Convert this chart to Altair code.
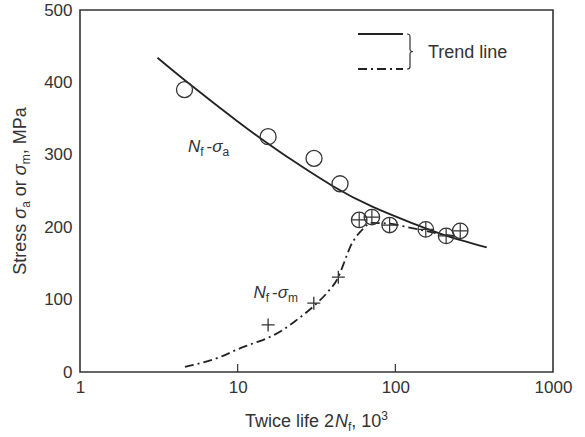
import altair as alt
import pandas as pd

# ---------------- data ----------------
life_a = [4.6, 15.6, 30.5, 44.6]            # open circles, N_f - sigma_a
stress_a = [390, 325, 295, 260]
life_b = [59, 71, 92, 156, 210, 258]        # circled crosses (sigma_a = sigma_m)
stress_b = [210, 214, 203, 197, 188, 195]
life_m = [15.6, 30.4, 43.5]                 # crosses, N_f - sigma_m
stress_m = [65, 95, 131]

trend_a_life = [3.1, 5, 10, 15, 22, 40, 72, 130, 212, 380]
trend_a_stress = [434, 397, 346, 318, 293, 257, 228, 205, 188, 172]
trend_m_life = [4.63, 6, 8, 9.9, 12, 15.3, 19, 23.7, 30, 36.7, 43.5, 49, 52, 57,
                64, 69, 90, 120, 155, 200, 250]
trend_m_stress = [7, 13, 22, 31, 38, 46.5, 57, 72, 90, 109, 131, 160, 174, 188,
                  200, 206, 205, 200, 195, 190, 187]

x_ticks = [1, 10, 100, 1000]
y_ticks = [0, 100, 200, 300, 400, 500]
inner_ticks = [10, 100]

# ---------------- styling ----------------
FONT = "Liberation Sans"
TXT = "#333333"
INK = "#222222"
W_PLOT, H_PLOT = 473, 362

xs = alt.Scale(type="log", domain=[1, 1000], nice=False)
ys = alt.Scale(domain=[0, 500], nice=False)


def X():
    return alt.X("life:Q", scale=xs, title=None,
                 axis=alt.Axis(values=x_ticks, format="d", ticks=False, domain=False,
                               grid=False, labelFont=FONT, labelFontSize=17,
                               labelColor=TXT, labelPadding=7, labelFlush=False))


def Y():
    return alt.Y("stress:Q", scale=ys, title=None,
                 axis=alt.Axis(values=y_ticks, ticks=False, domain=False, grid=False,
                               labelFont=FONT, labelFontSize=17, labelColor=TXT,
                               labelPadding=8, labelFlush=False))


def df(life, stress):
    return pd.DataFrame({"life": life, "stress": stress})


layers = []

# trend lines
layers.append(alt.Chart(df(trend_a_life, trend_a_stress)).mark_line(
    color=INK, strokeWidth=1.8, interpolate="natural").encode(x=X(), y=Y()))
layers.append(alt.Chart(df(trend_m_life, trend_m_stress)).mark_line(
    color=INK, strokeWidth=1.8, interpolate="monotone",
    strokeDash=[9, 4, 2, 4]).encode(x=X(), y=Y()))

# markers
PLUS = "M-1,0H1M0,-1V1"
layers.append(alt.Chart(df(life_a, stress_a)).mark_point(
    shape="circle", filled=False, size=256, strokeWidth=1.3, color="#333",
    opacity=1).encode(x=X(), y=Y()))
layers.append(alt.Chart(df(life_b, stress_b)).mark_point(
    shape="circle", filled=False, size=240, strokeWidth=1.3, color="#333",
    opacity=1).encode(x=X(), y=Y()))
layers.append(alt.Chart(df(life_b, stress_b)).mark_point(
    shape=PLUS, filled=False, size=240, strokeWidth=1.2, color="#333",
    opacity=1).encode(x=X(), y=Y()))
layers.append(alt.Chart(df(life_m, stress_m)).mark_point(
    shape=PLUS, filled=False, size=169, strokeWidth=1.3, color="#333",
    opacity=1).encode(x=X(), y=Y()))

# inward ticks on the bottom axis
layers.append(alt.Chart(pd.DataFrame({"life": inner_ticks})).mark_rule(
    color="#333", strokeWidth=1.2).encode(
    x=X(), y=alt.value(H_PLOT), y2=alt.value(H_PLOT - 8)))

# ---------------- rich text built from pieces ----------------
WID = {' ': 278, 'T': 611, 'w': 722, 'i': 222, 'c': 500, 'e': 556, 'l': 222, 'f': 278,
       '2': 556, 'N': 722, ',': 278, '1': 556, '0': 556, '3': 556, 'S': 667, 't': 278,
       'r': 333, 's': 500, 'o': 556, 'σ': 600, 'a': 556, 'm': 833, 'M': 833, 'P': 667,
       '-': 333, 'd': 556, 'n': 556}


def tw(s, size):
    return sum(WID.get(ch, 556) for ch in s) / 1000.0 * size


def total_width(pieces, main, small):
    w = 0.0
    for text, kind in pieces:
        if kind == "gap":
            w += text
        else:
            w += tw(text, small if kind in ("sub", "sup") else main)
    return w


def rich_text(pieces, anchor, angle=0, main=17, small=12, start=0.0):
    """anchor: ('data', life, stress) or ('px', x, y)"""
    out = []
    adv = start
    for text, kind in pieces:
        if kind == "gap":
            adv += text
            continue
        size = small if kind in ("sub", "sup") else main
        lead = len(text) - len(text.lstrip(" "))
        shown = text.strip(" ")
        off = adv + tw(" " * lead, size)
        dy = 4 if kind == "sub" else (-7 if kind == "sup" else 0)
        style = "italic" if kind == "i" else "normal"
        mk = dict(align="left", baseline="alphabetic", dx=off, dy=dy, font=FONT,
                  fontSize=size, fontStyle=style, color=TXT)
        if angle:
            mk["angle"] = angle
        if anchor[0] == "data":
            d = pd.DataFrame({"life": [anchor[1]], "stress": [anchor[2]], "t": [shown]})
            ch = alt.Chart(d).mark_text(**mk).encode(x=X(), y=Y(), text="t:N")
        else:
            d = pd.DataFrame({"t": [shown]})
            ch = alt.Chart(d).mark_text(**mk).encode(
                x=alt.value(anchor[1]), y=alt.value(anchor[2]), text="t:N")
        out.append(ch)
        adv += tw(text, size)
    return out


# curve annotations
ann_a = [("N", "i"), ("f", "sub"), (3, "gap"), ("-", "n"), ("σ", "i"), ("a", "sub")]
ann_m = [("N", "i"), ("f", "sub"), (3, "gap"), ("-", "n"), ("σ", "i"), ("m", "sub")]
layers += rich_text(ann_a, ("data", 4.84, 304))
layers += rich_text(ann_m, ("data", 12.6, 102))

# x-axis title
xt = [("Twice life 2", "n"), ("N", "i"), ("f", "sub"), (", 10", "n"), ("3", "sup")]
xw = total_width(xt, 18, 12)
layers += rich_text(xt, ("px", W_PLOT / 2 - xw / 2, 417), main=18, small=12)

# y-axis title (rotated)
yt = [("Stress ", "n"), ("σ", "i"), ("a", "sub"), (" or ", "n"), ("σ", "i"),
      ("m", "sub"), (", MPa", "n")]
yw = total_width(yt, 18, 12)
layers += rich_text(yt, ("px", -54, H_PLOT / 2 + yw / 2), angle=270, main=18, small=12)

# ---------------- legend box ----------------
one = pd.DataFrame({"k": [0]})
layers.append(alt.Chart(one).mark_rule(color=INK, strokeWidth=1.8).encode(
    x=alt.value(278), x2=alt.value(323), y=alt.value(24)))
layers.append(alt.Chart(one).mark_rule(color=INK, strokeWidth=1.8,
                                       strokeDash=[9, 4, 2, 4]).encode(
    x=alt.value(278), x2=alt.value(323), y=alt.value(59)))
BRACE = ("M-0.17,-1 Q0,-1 0,-0.85 L0,-0.15 Q0,0 0.17,0 Q0,0 0,0.15 "
         "L0,0.85 Q0,1 -0.17,1")
layers.append(alt.Chart(one).mark_point(
    shape=BRACE, filled=False, size=1225, strokeWidth=1.2, color="#333",
    opacity=1).encode(x=alt.value(330), y=alt.value(41.5)))
layers.append(alt.Chart(pd.DataFrame({"t": ["Trend line"]})).mark_text(
    align="left", baseline="alphabetic", font=FONT, fontSize=18, color=TXT).encode(
    x=alt.value(348), y=alt.value(48), text="t:N"))

chart = alt.layer(*layers).properties(
    width=W_PLOT, height=H_PLOT,
    autosize=alt.AutoSizeParams(type="none"),
    padding={"left": 80, "top": 10, "right": 32, "bottom": 65},
    background="white",
).configure_view(stroke="#333", strokeWidth=1.6)

chart.save("out.html", embed_options={"renderer": "svg", "actions": False})
